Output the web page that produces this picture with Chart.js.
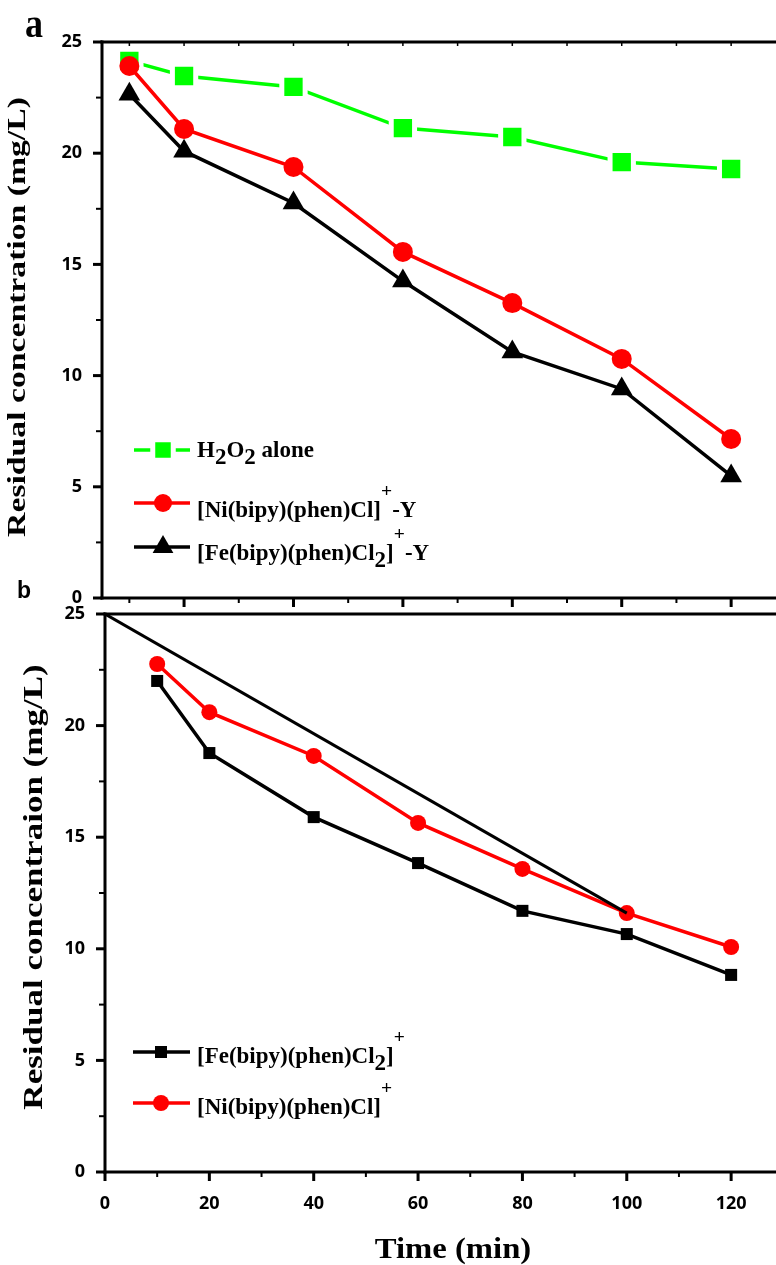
<!DOCTYPE html>
<html>
<head>
<meta charset="utf-8">
<script src="https://cdn.jsdelivr.net/npm/chart.js@4.4.1/dist/chart.umd.min.js"></script>
<style>
  html, body { margin: 0; padding: 0; background: #fff; overflow: hidden; }
  #wrap { position: relative; width: 776px; height: 1265px; }
  canvas { position: absolute; left: 0; }
  #chartA { top: 0; }
  #chartB { top: 570px; }
</style>
</head>
<body>
<div id="wrap">
  <canvas id="chartA" width="776" height="630"></canvas>
  <canvas id="chartB" width="776" height="695"></canvas>
</div>
<script>
// ---- Panel a: zeolite-Y supported complexes vs. H2O2 alone ----
const timeA = [10, 20, 40, 60, 80, 100, 120];
const h2o2Alone = [24.15, 23.47, 22.98, 21.13, 20.73, 19.6, 19.29];
const niY = [23.92, 21.09, 19.38, 15.56, 13.26, 10.75, 7.15];
const feY = [22.65, 20.09, 17.76, 14.25, 11.06, 9.4, 5.49];

// ---- Panel b: neat complexes ----
const timeB = [10, 20, 40, 60, 80, 100, 120];
const feComplex = [22.0, 18.77, 15.9, 13.84, 11.7, 10.66, 8.83];
const niComplex = [22.76, 20.6, 18.64, 15.64, 13.58, 11.6, 10.08];
const trendTime = [0, 100];
const trendConc = [25, 11.6];

// ---- Tick values ----
const concTicks = [0, 5, 10, 15, 20, 25];
const timeTicks = [0, 20, 40, 60, 80, 100, 120];

const SERIF = "'Liberation Serif', 'Times New Roman', serif";
const SANS = "'Open Sans', 'DejaVu Sans', sans-serif";
const ARIAL = "'Liberation Sans', Arial, sans-serif";

const pts = (xs, ys) => xs.map((x, i) => ({ x, y: ys[i] }));

// Rich text: parts = [[text, kind]] where kind is undefined | 'sub' | 'sup'
function drawRich(ctx, item) {
  const { parts, x, y, size, family = SERIF, sx = 1, rot = 0, align = 'left' } = item;
  ctx.save();
  ctx.translate(x, y);
  if (rot) ctx.rotate(rot);
  ctx.scale(rot ? 1 : sx, rot ? sx : 1);
  const out = [];
  let w = 0;
  for (const [text, kind] of parts) {
    const s = kind === 'sup' ? size * 0.85 : size;
    const dy = kind === 'sub' ? size * 0.32 : kind === 'sup' ? -size * 0.88 : 0;
    ctx.font = `bold ${s}px ${family}`;
    out.push({ text, dx: w, dy, s });
    w += ctx.measureText(text).width;
  }
  const x0 = align === 'center' ? -w / 2 : align === 'right' ? -w : 0;
  ctx.fillStyle = '#000';
  ctx.textBaseline = 'alphabetic';
  ctx.textAlign = 'left';
  for (const p of out) {
    ctx.font = `bold ${p.s}px ${family}`;
    ctx.fillText(p.text, x0 + p.dx, p.dy);
  }
  ctx.restore();
}

// Axis frame with major/minor tick marks
const framePlugin = {
  id: 'frame',
  beforeDatasetsDraw(chart, args, o) {
    const { ctx, chartArea: a, scales: { x, y } } = chart;
    const seg = (x1, y1, x2, y2, w) => {
      ctx.lineWidth = w;
      ctx.beginPath(); ctx.moveTo(x1, y1); ctx.lineTo(x2, y2); ctx.stroke();
    };
    ctx.save();
    ctx.strokeStyle = '#000';
    ctx.lineCap = 'butt';
    seg(a.left, a.top - 1.5, a.left, a.bottom + 1.5, 3);
    seg(a.left - 1.5, a.top, a.right, a.top, 3);
    seg(a.left - 1.5, a.bottom, a.right, a.bottom, 3);
    for (let v = y.min; v <= y.max + 1e-9; v += 2.5) {
      const p = y.getPixelForValue(v);
      const major = Math.abs(v / 5 - Math.round(v / 5)) < 1e-6;
      seg(a.left, p, a.left - (major ? 9 : 6), p, major ? 3 : 2);
    }
    for (let v = Math.ceil(x.min / 10) * 10; v <= x.max; v += 10) {
      const p = x.getPixelForValue(v);
      const major = v % 20 === 0;
      seg(p, a.bottom, p, a.bottom + (major ? 9 : 5), major ? 3 : 2);
      if (o.topTicks) seg(p, a.top, p, a.top + 4, 1.5);
    }
    ctx.restore();
  }
};

// Legend rows (line + marker + rich label) and free text
const notesPlugin = {
  id: 'notes',
  afterDraw(chart, args, o) {
    const ctx = chart.ctx;
    for (const row of o.legend || []) {
      const ds = chart.data.datasets[row.ds];
      ctx.save();
      ctx.strokeStyle = ds.borderColor;
      ctx.lineWidth = ds.borderWidth;
      ctx.beginPath();
      ctx.moveTo(o.lineX1, row.my);
      ctx.lineTo(o.lineX2, row.my);
      ctx.stroke();
      ctx.fillStyle = ds.pointBackgroundColor;
      ctx.strokeStyle = ds.pointBorderColor;
      ctx.lineWidth = ds.pointBorderWidth;
      Chart.helpers.drawPoint(ctx, {
        pointStyle: ds.pointStyle, radius: row.r || ds.pointRadius,
        borderWidth: ds.pointBorderWidth, rotation: 0
      }, o.markX, row.my);
      ctx.restore();
      drawRich(ctx, { parts: row.parts, x: o.textX, y: row.ty, size: o.size, sx: o.sx });
    }
    for (const t of o.texts || []) drawRich(ctx, t);
  }
};

const lineDs = (label, data, color, style, r, extra = {}) => Object.assign({
  label, data, borderColor: color, borderWidth: 3.5, tension: 0, fill: false,
  pointStyle: style, pointRadius: r, pointHoverRadius: r,
  pointBackgroundColor: color, pointBorderColor: color, pointBorderWidth: 0
}, extra);

function makeOptions(cfg) {
  return {
    responsive: false, animation: false, devicePixelRatio: 1,
    events: [],
    layout: { autoPadding: false, padding: { top: cfg.top, left: 0, right: 0, bottom: 0 } },
    plugins: {
      legend: { display: false }, tooltip: { enabled: false },
      frame: { topTicks: cfg.topTicks },
      notes: cfg.notes
    },
    scales: {
      x: {
        type: 'linear', min: cfg.xMin, max: cfg.xMax,
        grid: { display: false, drawTicks: false }, border: { display: false },
        afterBuildTicks: s => { s.ticks = timeTicks.map(v => ({ value: v })); },
        ticks: {
          display: cfg.xLabels, padding: 21, maxRotation: 0, autoSkip: false,
          color: '#000', font: { family: SANS, weight: 'bold', size: 18 }
        },
        afterFit: s => { s.height = cfg.xHeight; }
      },
      y: {
        type: 'linear', min: 0, max: 25,
        grid: { display: false, drawTicks: false }, border: { display: false },
        afterBuildTicks: s => { s.ticks = concTicks.map(v => ({ value: v })); },
        ticks: {
          padding: 20, color: '#000',
          font: { family: SANS, weight: 'bold', size: 18 }
        },
        afterFit: s => { s.width = cfg.left; }
      }
    }
  };
}

// Panel a
new Chart(document.getElementById('chartA'), {
  type: 'line',
  data: {
    datasets: [
      lineDs('H2O2 alone', pts(timeA, h2o2Alone), '#00ff00', 'rect', 16.5,
        { pointBorderColor: '#ffffff', pointBorderWidth: 5, order: 2 }),
      lineDs('[Ni(bipy)(phen)Cl]+-Y', pts(timeA, niY), '#ff0000', 'circle', 10, { order: 0 }),
      lineDs('[Fe(bipy)(phen)Cl2]+-Y', pts(timeA, feY), '#000000', 'triangle', 12.5, { order: 1 })
    ]
  },
  options: makeOptions({
    top: 42, left: 102, xHeight: 32, xMin: 5, xMax: 128.2, xLabels: false, topTicks: true,
    notes: {
      lineX1: 134, lineX2: 190, markX: 163, textX: 197, size: 23, sx: 1,
      legend: [
        { ds: 0, my: 450, ty: 457, r: 14.5, parts: [['H'], ['2', 'sub'], ['O'], ['2', 'sub'], [' alone']] },
        { ds: 1, my: 503, ty: 517, r: 9, parts: [['[Ni(bipy)(phen)Cl]'], ['+', 'sup'], ['-Y']] },
        { ds: 2, my: 547, ty: 560, r: 12, parts: [['[Fe(bipy)(phen)Cl'], ['2', 'sub'], [']'], ['+', 'sup'], ['-Y']] }
      ],
      texts: [
        { parts: [['a']], x: 25, y: 37, size: 40, sx: 0.9 },
        { parts: [['Residual concentration (mg/L)']], x: 25, y: 317, size: 33.7, sx: 0.77, rot: -Math.PI / 2, align: 'center' }
      ]
    }
  }),
  plugins: [framePlugin, notesPlugin]
});

// Panel b
new Chart(document.getElementById('chartB'), {
  type: 'line',
  data: {
    datasets: [
      lineDs('[Fe(bipy)(phen)Cl2]+', pts(timeB, feComplex), '#000000', 'rect', 8.5, { order: 2 }),
      lineDs('[Ni(bipy)(phen)Cl]+', pts(timeB, niComplex), '#ff0000', 'circle', 8, { order: 1 }),
      lineDs('', pts(trendTime, trendConc), '#000000', 'circle', 0, { borderWidth: 3, order: 0 })
    ]
  },
  options: makeOptions({
    top: 44, left: 105, xHeight: 93, xMin: 0, xMax: 128.6, xLabels: true, topTicks: false,
    notes: {
      lineX1: 133, lineX2: 190, markX: 161, textX: 197, size: 23, sx: 1,
      legend: [
        { ds: 0, my: 482, ty: 493, parts: [['[Fe(bipy)(phen)Cl'], ['2', 'sub'], [']'], ['+', 'sup']] },
        { ds: 1, my: 533, ty: 544, parts: [['[Ni(bipy)(phen)Cl]'], ['+', 'sup']] }
      ],
      texts: [
        { parts: [['b']], x: 17, y: 28, size: 23, family: ARIAL },
        { parts: [['Residual concentraion (mg/L)']], x: 42, y: 317, size: 35, sx: 0.8, rot: -Math.PI / 2, align: 'center' },
        { parts: [['Time (min)']], x: 453, y: 688, size: 30, sx: 1.09, align: 'center' }
      ]
    }
  }),
  plugins: [framePlugin, notesPlugin]
});
</script>
</body>
</html>
